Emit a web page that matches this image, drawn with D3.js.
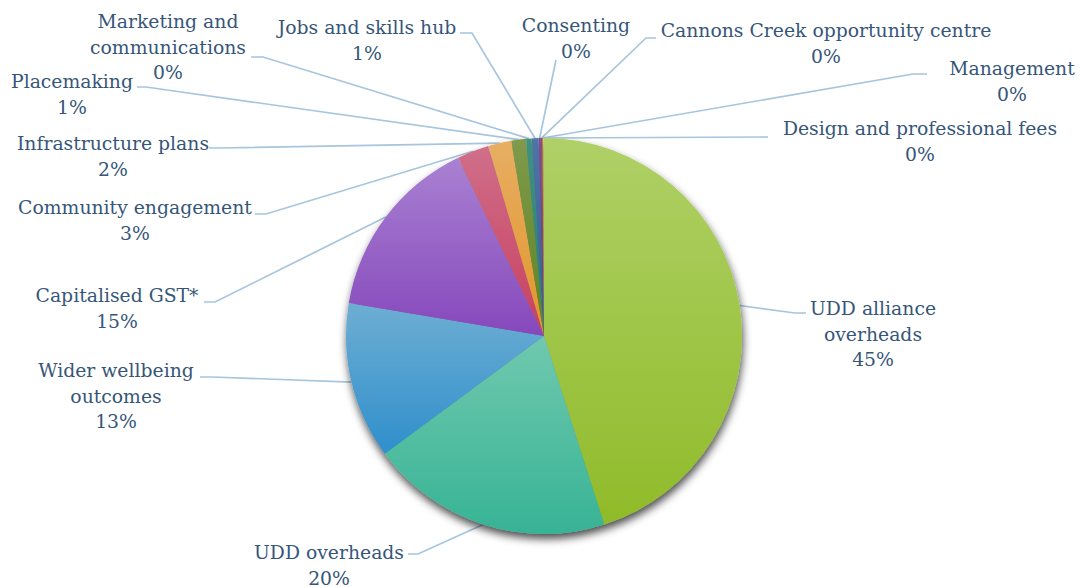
<!DOCTYPE html>
<html>
<head>
<meta charset="utf-8">
<script src="https://cdn.jsdelivr.net/npm/d3@7"></script>
<style>
  html, body { margin: 0; padding: 0; background: #ffffff; }
  svg { display: block; }
</style>
</head>
<body>
<script>
// Spending categories, in slice order (clockwise from 12 o'clock)
const categories = [
  "UDD alliance overheads",
  "UDD overheads",
  "Wider wellbeing outcomes",
  "Capitalised GST*",
  "Community engagement",
  "Infrastructure plans",
  "Placemaking",
  "Marketing and communications",
  "Jobs and skills hub",
  "Consenting",
  "Cannons Creek opportunity centre",
  "Management",
  "Design and professional fees"
];

// Share of total spend (%)
const shares = [45.1, 19.8, 12.8, 15.2, 2.6, 1.9, 1.2, 0.45, 0.55, 0.2, 0.1, 0.1, 0.05];

// How each category name is broken over lines in its label
const labelLines = [
  ["UDD alliance", "overheads"],
  ["UDD overheads"],
  ["Wider wellbeing", "outcomes"],
  ["Capitalised GST*"],
  ["Community engagement"],
  ["Infrastructure plans"],
  ["Placemaking"],
  ["Marketing and", "communications"],
  ["Jobs and skills hub"],
  ["Consenting"],
  ["Cannons Creek opportunity centre"],
  ["Management"],
  ["Design and professional fees"]
];

// ---- layout & style ----
const W = 1080, H = 587;
const cx = 544, cy = 336, R = 198;
const lineH = 25.5;

// Slice gradients: [top colour, bottom colour]
const fills = [
  ["#afd067", "#90bb29"],
  ["#70c9ae", "#37b395"],
  ["#6eaed3", "#2f8fcc"],
  ["#a981d2", "#8648bc"],
  ["#d06f8a", "#c73f5e"],
  ["#e7ae63", "#e2952a"],
  ["#7f9a4c", "#5d8320"],
  ["#3f9282", "#2a7e6b"],
  ["#4f74a2", "#2f5e92"],
  ["#7550a0", "#5e3388"],
  ["#9a4a60", "#86304a"],
  ["#b07a35", "#9a6320"],
  ["#b8d67a", "#a0c74a"]
];

// Label placement: centre x, first-line centre y, leader anchor (ax, ay) and stub end x
const labelPos = [
  { x: 873, y: 308, ax: 806, ay: 313, sx: 795 },
  { x: 329, y: 552, ax: 408, ay: 554, sx: 418 },
  { x: 116, y: 370, ax: 200, ay: 377, sx: 212 },
  { x: 117, y: 295, ax: 204, ay: 302, sx: 215 },
  { x: 135, y: 207, ax: 255, ay: 214, sx: 266 },
  { x: 113, y: 143, ax: 209, ay: 148, sx: 218 },
  { x: 72,  y: 81,  ax: 137, ay: 87,  sx: 146 },
  { x: 168, y: 21,  ax: 251, ay: 57,  sx: 263 },
  { x: 367, y: 27,  ax: 460, ay: 33,  sx: 472 },
  { x: 576, y: 25,  ax: 556, ay: 60,  sx: 556 },
  { x: 826, y: 30,  ax: 656, ay: 38,  sx: 646 },
  { x: 1012, y: 68, ax: 927, ay: 74,  sx: 913 },
  { x: 920, y: 128, ax: 768, ay: 137, sx: 768 }
];

const svg = d3.select("body").append("svg")
  .attr("width", W).attr("height", H)
  .attr("viewBox", `0 0 ${W} ${H}`);

const defs = svg.append("defs");

const shadow = defs.append("filter")
  .attr("id", "pieShadow")
  .attr("x", "-10%").attr("y", "-10%")
  .attr("width", "120%").attr("height", "125%");
shadow.append("feDropShadow")
  .attr("dx", 1).attr("dy", 5)
  .attr("stdDeviation", 4)
  .attr("flood-color", "#000")
  .attr("flood-opacity", 0.7);

fills.forEach((c, i) => {
  const g = defs.append("linearGradient")
    .attr("id", "grad" + i)
    .attr("x1", 0).attr("y1", 0).attr("x2", 0).attr("y2", 1);
  g.append("stop").attr("offset", "0%").attr("stop-color", c[0]);
  g.append("stop").attr("offset", "100%").attr("stop-color", c[1]);
});

const data = categories.map((name, i) => ({ name, value: shares[i], i }));
const total = d3.sum(data, d => d.value);

const pie = d3.pie()
  .sort(null)
  .value(d => d.value)
  .startAngle(0)
  .endAngle(2 * Math.PI);

const arcs = pie(data);
const arc = d3.arc().innerRadius(0).outerRadius(R);

// Leader lines (drawn first so the pie sits over their ends)
const leaders = svg.append("g")
  .attr("fill", "none")
  .attr("stroke", "#a6c5de")
  .attr("stroke-width", 1.7);

arcs.forEach(a => {
  const p = labelPos[a.data.i];
  const mid = (a.startAngle + a.endAngle) / 2;
  const ex = cx + R * Math.sin(mid);
  const ey = cy - R * Math.cos(mid);
  const pts = [[p.ax, p.ay]];
  if (p.sx !== p.ax) pts.push([p.sx, p.ay]);
  pts.push([ex, ey]);
  leaders.append("path").attr("d", d3.line()(pts));
});

// Pie slices
const pieG = svg.append("g")
  .attr("transform", `translate(${cx},${cy})`)
  .attr("filter", "url(#pieShadow)");

pieG.selectAll("path")
  .data(arcs)
  .join("path")
  .attr("d", arc)
  .attr("fill", d => `url(#grad${d.data.i})`);

// Labels
const labels = svg.append("g")
  .attr("font-family", "'DejaVu Serif', serif")
  .attr("font-size", 18.8)
  .attr("fill", "#365679")
  .attr("text-anchor", "middle");

arcs.forEach(a => {
  const i = a.data.i;
  const p = labelPos[i];
  const pct = Math.round(a.data.value / total * 100) + "%";
  const lines = labelLines[i].concat([pct]);
  const t = labels.append("text")
    .attr("x", p.x)
    .attr("y", p.y)
    .attr("dominant-baseline", "central");
  lines.forEach((ln, k) => {
    t.append("tspan")
      .attr("x", p.x)
      .attr("y", p.y + k * lineH)
      .text(ln);
  });
});
</script>
</body>
</html>
